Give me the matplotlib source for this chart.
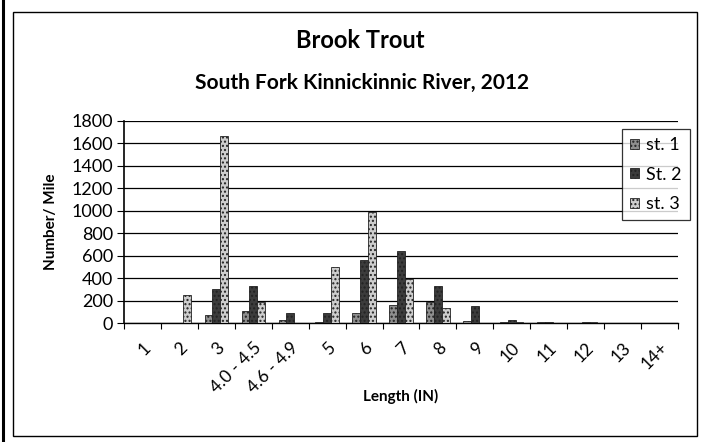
import matplotlib
matplotlib.use('Agg')
import matplotlib.pyplot as plt
import numpy as np
from matplotlib.patches import Rectangle
from matplotlib.lines import Line2D

plt.rcParams['font.family'] = ['Lato', 'DejaVu Sans']

lengths = ['1', '2', '3', '4.0 - 4.5', '4.6 - 4.9', '5', '6', '7', '8', '9',
           '10', '11', '12', '13', '14+']
st1 = [0, 0, 70, 110, 30, 5, 85, 160, 190, 20, 5, 5, 0, 0, 0]
st2 = [0, 0, 300, 330, 90, 90, 560, 640, 330, 150, 30, 5, 5, 0, 0]
st3 = [0, 250, 1670, 190, 0, 500, 990, 390, 130, 0, 5, 0, 5, 0, 0]
series = [('st. 1', st1, '#8e8e8e'), ('St. 2', st2, '#3c3c3c'), ('st. 3', st3, '#cdcdcd')]

W, H = 704, 442
fig = plt.figure(figsize=(W / 100, H / 100), dpi=100)
# chart frame + scanned page edge
fig.patches.append(Rectangle((13 / W, 1 - 436 / H), 684 / W, 424 / H, transform=fig.transFigure,
                             fill=False, edgecolor='black', linewidth=1.0))
fig.lines.append(Line2D([3 / W, 3 / W], [0, 1], transform=fig.transFigure,
                        color='black', linewidth=2.2))

ax = fig.add_axes([124 / W, 1 - 323 / H, 554 / W, 202 / H])

x = np.arange(len(lengths))
w = 0.21
for i, (name, vals, col) in enumerate(series):
    ax.bar(x + (i - 1) * w, vals, width=w, color=col, edgecolor='#222222',
           linewidth=0.6, hatch='....', label=name, zorder=3)

ax.set_xlim(-0.5, len(lengths) - 0.5)
ax.set_ylim(0, 1800)
ax.set_yticks(range(0, 1801, 200))
ax.grid(axis='y', color='black', linewidth=0.9, zorder=0)
ax.set_xticks(x)
ax.set_xticklabels(lengths, rotation=45, ha='right', rotation_mode='anchor', fontsize=12.5)
ax.set_xticks(np.arange(-0.5, len(lengths), 1), minor=True)
ax.tick_params(axis='x', which='major', length=0, pad=12)
ax.tick_params(axis='x', which='minor', length=4, width=0.8)
ax.tick_params(axis='y', length=5, labelsize=13, pad=3)
for s in ['top', 'right']:
    ax.spines[s].set_visible(False)
ax.spines['left'].set_linewidth(1.2)
ax.spines['bottom'].set_linewidth(1.0)

ax.set_ylabel('Number/ Mile', fontsize=11, fontweight='bold', labelpad=4)
ax.set_xlabel('Length (IN)', fontsize=11, fontweight='bold', labelpad=4)
ax.xaxis.set_label_coords(0.5, (323 - 389) / 202)
ax.yaxis.set_label_coords((58 - 124) / 554, 0.5)

leg = ax.legend(loc='upper left', bbox_to_anchor=((622 - 124) / 554, (323 - 129) / 202),
                frameon=True, fancybox=False, edgecolor='black', fontsize=13,
                handlelength=0.5, handleheight=0.5, handletextpad=0.4,
                labelspacing=0.75, borderpad=0.45, borderaxespad=0)
leg.get_frame().set_linewidth(0.9)

fig.text(360 / W, 1 - 41 / H, 'Brook Trout', ha='center', va='center', fontsize=17, fontweight='bold')
fig.text(362 / W, 1 - 83 / H, 'South Fork Kinnickinnic River, 2012', ha='center', va='center',
         fontsize=15, fontweight='bold')

fig.savefig('out.png', dpi=100)
